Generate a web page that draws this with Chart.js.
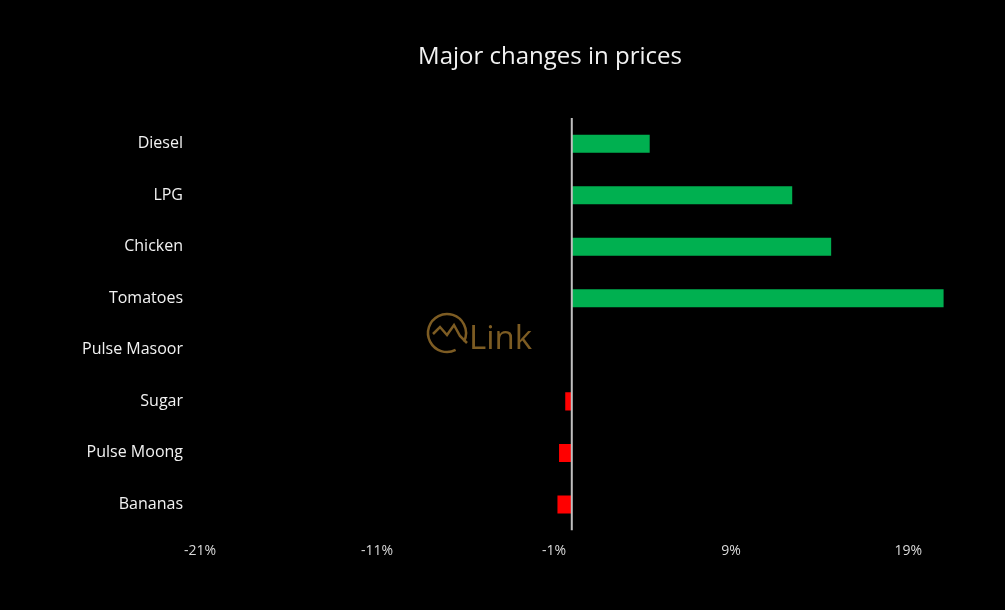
<!DOCTYPE html>
<html>
<head>
<meta charset="utf-8">
<script src="https://cdn.jsdelivr.net/npm/chart.js@4.4.1/dist/chart.umd.min.js"></script>
<style>
  html, body { margin: 0; padding: 0; background: #000; }
  #wrap { width: 1005px; height: 610px; position: relative; }
</style>
</head>
<body>
<div id="wrap"><canvas id="c"></canvas></div>
<script>
const categories = ["Diesel", "LPG", "Chicken", "Tomatoes", "Pulse Masoor", "Sugar", "Pulse Moong", "Bananas"];
const changes = [4.4, 12.45, 14.65, 21.0, 0, -0.37, -0.72, -0.81];
const tickValues = [-21, -11, -1, 9, 19];
const axisMin = -21;
const axisMax = 23;
const chartTitle = 'Major changes in prices';

const titlePlugin = {
  id: 'customTitle',
  afterDraw(chart) {
    const ctx = chart.ctx;
    ctx.save();
    ctx.fillStyle = '#f2f2f2';
    ctx.font = '24px "Open Sans", sans-serif';
    ctx.textAlign = 'center';
    ctx.textBaseline = 'middle';
    ctx.fillText(chartTitle, 550, 57);
    ctx.restore();
  }
};

const zeroLine = {
  id: 'zeroLine',
  afterDatasetsDraw(chart) {
    const {ctx, chartArea, scales} = chart;
    const x = scales.x.getPixelForValue(0);
    ctx.save();
    ctx.strokeStyle = '#bfbfbf';
    ctx.lineWidth = 2;
    ctx.beginPath();
    ctx.moveTo(x, chartArea.top);
    ctx.lineTo(x, chartArea.bottom);
    ctx.stroke();
    ctx.restore();
  }
};

const watermark = {
  id: 'watermark',
  beforeDatasetsDraw(chart) {
    const ctx = chart.ctx;
    ctx.save();
    ctx.strokeStyle = '#7d5c23';
    ctx.fillStyle = '#7d5c23';
    ctx.lineWidth = 2.5;
    const cx = 447, cy = 333, r = 19;
    ctx.beginPath();
    ctx.arc(cx, cy, r, Math.PI * 0.35, Math.PI * 2.15);
    ctx.stroke();
    ctx.beginPath();
    ctx.moveTo(cx - 14, cy + 1);
    ctx.lineTo(cx - 7, cy - 6);
    ctx.lineTo(cx, cy + 2);
    ctx.lineTo(cx + 7, cy - 8);
    ctx.lineTo(cx + 13, cy + 3);
    ctx.lineTo(cx + 20, cy + 10);
    ctx.stroke();
    ctx.font = '33px "Open Sans", sans-serif';
    ctx.textBaseline = 'alphabetic';
    ctx.textAlign = 'left';
    ctx.fillText('Link', 469, 349);
    ctx.restore();
  }
};

new Chart(document.getElementById('c'), {
  type: 'bar',
  data: {
    labels: categories,
    datasets: [{
      data: changes,
      backgroundColor: ctx => (ctx.raw >= 0 ? '#00b050' : '#ff0000'),
      borderWidth: 0,
      categoryPercentage: 1,
      barPercentage: 0.35
    }]
  },
  options: {
    indexAxis: 'y',
    responsive: true,
    maintainAspectRatio: false,
    animation: false,
    layout: { padding: { left: 0, right: 26, top: 118, bottom: 39 } },
    plugins: {
      legend: { display: false },
      tooltip: { enabled: false },
      title: { display: false }
    },
    scales: {
      x: {
        type: 'linear',
        min: axisMin,
        max: axisMax,
        grid: { display: false, drawTicks: false },
        border: { display: false },
        afterBuildTicks: scale => { scale.ticks = tickValues.map(v => ({ value: v })); },
        ticks: {
          color: '#d9d9d9',
          padding: 12,
          maxRotation: 0,
          autoSkip: false,
          font: { family: '"Open Sans", sans-serif', size: 14 },
          callback: v => v + '%'
        }
      },
      y: {
        grid: { display: false, drawTicks: false },
        border: { display: false },
        afterFit: scale => { scale.width = 200; },
        ticks: {
          color: '#f2f2f2',
          padding: 17,
          font: { family: '"Open Sans", sans-serif', size: 16 }
        }
      }
    }
  },
  plugins: [zeroLine, watermark, titlePlugin]
});
</script>
</body>
</html>
